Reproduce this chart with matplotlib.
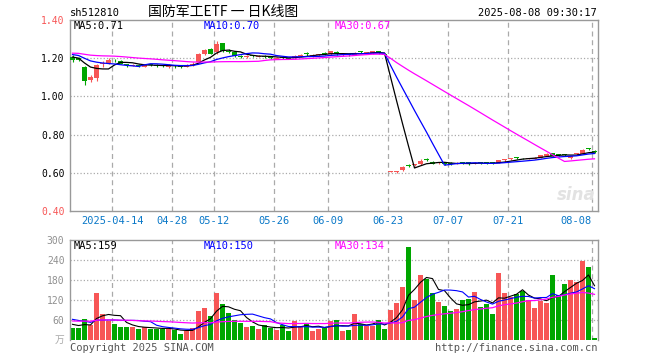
import numpy as np
import pandas as pd
import matplotlib
matplotlib.use("Agg")
import matplotlib.pyplot as plt

# closes / volumes of the 29 sessions before the first bar (only to warm up the MAs)
hist_close = [1.22, 1.23, 1.24, 1.23, 1.22, 1.21, 1.22, 1.23, 1.24, 1.25,
              1.24, 1.23, 1.22, 1.23, 1.24, 1.23, 1.22, 1.23, 1.24, 1.23,
              1.24, 1.23, 1.24, 1.23, 1.22, 1.22, 1.21, 1.21, 1.20]
hist_vol = [50, 60, 55, 48, 52, 58, 62, 50, 47, 55, 60, 53, 49, 56, 58,
            52, 57, 54, 55, 59, 70, 85, 80, 75, 75, 55, 48, 50, 45]

# daily K bars, 2025-04-02 .. 2025-08-08
opens = [1.205, 1.200, 1.155, 1.085, 1.098, 1.168, 1.174, 1.190, 1.185, 1.168,
         1.160, 1.166, 1.155, 1.168, 1.164, 1.162, 1.156, 1.162, 1.160, 1.155,
         1.165, 1.180, 1.222, 1.250, 1.232, 1.280, 1.240, 1.232, 1.212, 1.208,
         1.213, 1.208, 1.214, 1.205, 1.198, 1.204, 1.202, 1.200, 1.211, 1.222,
         1.212, 1.216, 1.226, 1.222, 1.232, 1.218, 1.220, 1.219, 1.234, 1.225,
         1.226, 1.236, 1.224, 0.604, 0.603, 0.613, 0.638, 0.639, 0.644, 0.673,
         0.658, 0.650, 0.656, 0.652, 0.647, 0.651, 0.650, 0.648, 0.651, 0.650,
         0.650, 0.652, 0.666, 0.671, 0.678, 0.676, 0.673, 0.674, 0.680, 0.690,
         0.703, 0.695, 0.694, 0.675, 0.698, 0.700, 0.727, 0.716]
highs = [1.215, 1.205, 1.160, 1.113, 1.170, 1.186, 1.200, 1.198, 1.188, 1.172,
         1.170, 1.170, 1.170, 1.172, 1.168, 1.166, 1.168, 1.165, 1.163, 1.168,
         1.178, 1.225, 1.250, 1.256, 1.289, 1.282, 1.246, 1.235, 1.218, 1.218,
         1.218, 1.216, 1.217, 1.209, 1.207, 1.208, 1.205, 1.216, 1.220, 1.230,
         1.222, 1.224, 1.234, 1.240, 1.236, 1.224, 1.224, 1.232, 1.240, 1.232,
         1.240, 1.238, 1.228, 0.609, 0.612, 0.634, 0.646, 0.645, 0.673, 0.676,
         0.660, 0.656, 0.658, 0.654, 0.655, 0.656, 0.653, 0.654, 0.653, 0.652,
         0.653, 0.667, 0.670, 0.676, 0.681, 0.679, 0.680, 0.682, 0.694, 0.702,
         0.705, 0.698, 0.697, 0.690, 0.703, 0.724, 0.730, 0.718]
lows = [1.180, 1.185, 1.060, 1.075, 1.080, 1.155, 1.168, 1.180, 1.168, 1.155,
        1.158, 1.152, 1.152, 1.160, 1.155, 1.152, 1.150, 1.150, 1.150, 1.152,
        1.160, 1.176, 1.218, 1.220, 1.222, 1.232, 1.225, 1.208, 1.203, 1.203,
        1.205, 1.204, 1.203, 1.197, 1.195, 1.196, 1.194, 1.198, 1.208, 1.214,
        1.208, 1.213, 1.218, 1.218, 1.218, 1.212, 1.212, 1.215, 1.226, 1.222,
        1.222, 1.222, 1.208, 0.602, 0.601, 0.611, 0.630, 0.634, 0.640, 0.660,
        0.645, 0.647, 0.643, 0.642, 0.645, 0.646, 0.643, 0.646, 0.646, 0.646,
        0.646, 0.650, 0.655, 0.668, 0.672, 0.671, 0.670, 0.672, 0.678, 0.688,
        0.688, 0.690, 0.688, 0.672, 0.694, 0.698, 0.718, 0.706]
closes = [1.190, 1.192, 1.083, 1.103, 1.165, 1.176, 1.191, 1.188, 1.172, 1.163,
          1.166, 1.160, 1.166, 1.164, 1.160, 1.158, 1.162, 1.158, 1.156, 1.164,
          1.172, 1.220, 1.243, 1.224, 1.275, 1.238, 1.232, 1.212, 1.208, 1.214,
          1.210, 1.212, 1.208, 1.201, 1.203, 1.200, 1.198, 1.213, 1.216, 1.220,
          1.218, 1.219, 1.224, 1.236, 1.222, 1.219, 1.216, 1.228, 1.232, 1.228,
          1.236, 1.226, 1.215, 0.607, 0.610, 0.632, 0.636, 0.641, 0.663, 0.665,
          0.648, 0.653, 0.646, 0.645, 0.652, 0.650, 0.649, 0.652, 0.650, 0.649,
          0.649, 0.665, 0.668, 0.673, 0.677, 0.675, 0.678, 0.680, 0.692, 0.700,
          0.690, 0.694, 0.692, 0.688, 0.700, 0.721, 0.725, 0.708]
vols = [37, 37, 62, 45, 141, 78, 57, 49, 40, 40,
        40, 33, 39, 34, 34, 34, 34, 29, 18, 28,
        35, 87, 97, 72, 141, 108, 80, 60, 50, 40,
        42, 33, 44, 35, 31, 44, 26, 57, 41, 49,
        26, 34, 36, 58, 60, 27, 30, 78, 48, 42,
        42, 60, 33, 90, 111, 159, 278, 121, 196, 184,
        142, 115, 103, 88, 94, 121, 124, 145, 100, 108,
        79, 200, 140, 130, 137, 147, 120, 95, 117, 111,
        195, 135, 167, 180, 174, 237, 218, 5]

tick_idx = [7, 17, 24, 34, 43, 53, 63, 73, 87]
tick_lab = ['2025-04-14', '04-28', '05-12', '05-26', '06-09',
            '06-23', '07-07', '07-21', '08-08']
price_ticks = [0.40, 0.60, 0.80, 1.00, 1.20, 1.40]
vol_ticks = [60, 120, 180, 240, 300]

RED = '#f75656'
GREEN = '#00a600'
GRID = '#aaaaaa'
FRAME = '#999999'
MONO = 'DejaVu Sans Mono'
CJK = ['Noto Sans CJK SC', 'DejaVu Sans']

n = len(closes)
nh = len(hist_close)
c_all = pd.Series(hist_close + closes)
v_all = pd.Series(hist_vol + vols)
ma = {k: c_all.rolling(k).mean().values[nh:] for k in (5, 10, 30)}
vma = {k: v_all.rolling(k).mean().values[nh:] for k in (5, 10, 30)}

fig = plt.figure(figsize=(6.6, 3.6), dpi=100)
ax = fig.add_axes([70/660, 149/360, 528/660, 191/360])
axv = fig.add_axes([70/660, 20/360, 528/660, 100/360])

W = 5/6
xc = np.arange(n) + 2.5/6
cols = [RED if c >= o else GREEN for o, c in zip(opens, closes)]

# candles
lo = np.minimum(opens, closes)
hi = np.maximum(opens, closes)
ax.vlines(xc, lows, highs, colors=cols, lw=0.8, zorder=2)
ax.bar(np.arange(n), np.maximum(hi - lo, 0.005), bottom=lo, width=W,
       align='edge', color=cols, lw=0, zorder=3)
ax.plot(xc, ma[5], color='black', lw=0.9, zorder=4)
ax.plot(xc, ma[10], color='#0000ff', lw=0.9, zorder=4)
ax.plot(xc, ma[30], color='#ff00ff', lw=0.9, zorder=4)

# volume
axv.bar(np.arange(n), vols, width=W, align='edge', color=cols, lw=0, zorder=2)
axv.plot(xc, vma[5], color='black', lw=0.8, zorder=4)
axv.plot(xc, vma[10], color='#0000ff', lw=0.8, zorder=4)
axv.plot(xc, vma[30], color='#ff00ff', lw=0.9, zorder=4)

for a in (ax, axv):
    a.set_xlim(0, n)
    a.set_xticks([])
    for t in tick_idx:
        a.axvline(t, color=GRID, ls=(0, (4, 3)), lw=0.9, zorder=1)
    for s in a.spines.values():
        s.set_color(FRAME)
        s.set_linewidth(1)
    a.tick_params(axis='y', length=0, pad=4, labelsize=7)

ax.set_ylim(0.40, 1.40)
ax.set_yticks(price_ticks)
ax.set_yticklabels([f'{p:.2f}' for p in price_ticks], family=MONO)
for lab, p in zip(ax.get_yticklabels(), price_ticks):
    lab.set_color(RED if p in (0.40, 1.40) else 'black')
for p in price_ticks[1:-1]:
    ax.axhline(p, color=GRID, ls=':', lw=0.9, zorder=1)

axv.set_ylim(0, 300)
axv.set_yticks(vol_ticks)
axv.set_yticklabels([str(v) for v in vol_ticks], family=MONO, color='#909090')
for v in vol_ticks[:-1]:
    axv.axhline(v, color=GRID, ls=':', lw=0.9, zorder=1)
axv.spines['bottom'].set_visible(False)

for t, lab in zip(tick_idx, tick_lab):
    ax.text(t, -0.052, lab, transform=ax.get_xaxis_transform(),
            ha='right' if t == n - 1 else 'center', va='center',
            family=MONO, fontsize=7.5, color='#0a78c8')


def ftext(x, y, s, **kw):
    fig.text(x / 660, 1 - y / 360, s, va='center', **kw)


ftext(70, 13, 'sh512810', family=MONO, fontsize=7.5)
ftext(223, 12, '国防军工ETF 一 日K线图', family=CJK, fontsize=10, ha='center')
ftext(597, 13, '2025-08-08 09:30:17', family=MONO, fontsize=7.5, ha='right')

ftext(74, 26, 'MA5:0.71', family=MONO, fontsize=7.5, color='black')
ftext(204, 26, 'MA10:0.70', family=MONO, fontsize=7.5, color='#0000ff')
ftext(335, 26, 'MA30:0.67', family=MONO, fontsize=7.5, color='#ff00ff')

ftext(74, 246, 'MA5:159', family=MONO, fontsize=7.5, color='black')
ftext(204, 246, 'MA10:150', family=MONO, fontsize=7.5, color='#0000ff')
ftext(335, 246, 'MA30:134', family=MONO, fontsize=7.5, color='#ff00ff')

ftext(64, 340, '万', family=CJK, fontsize=7, color='#aaaaaa', ha='right')
ftext(70, 348, 'Copyright 2025 SINA.COM', family=MONO, fontsize=7.5, color='#555555')
ftext(597, 348, 'http://finance.sina.com.cn', family=MONO, fontsize=7.5,
      color='#555555', ha='right')
ftext(576, 195, 'sina', family='DejaVu Sans', fontsize=12, style='italic',
      weight='bold', color='#e2e2e2', ha='center')

fig.savefig('out.png', dpi=100)
